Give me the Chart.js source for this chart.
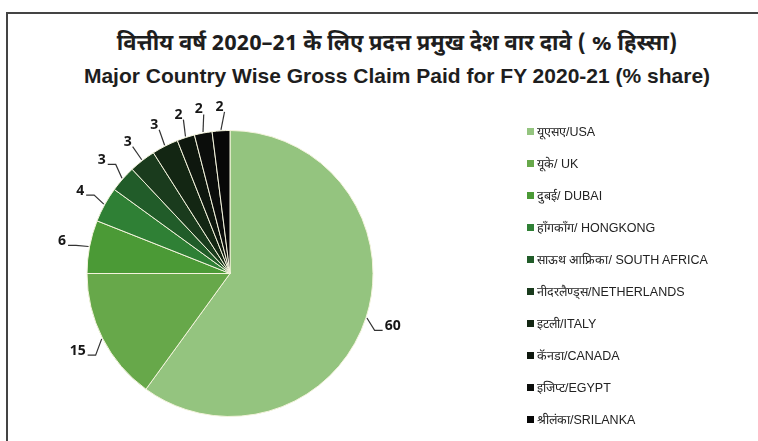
<!DOCTYPE html>
<html>
<head>
<meta charset="utf-8">
<script src="https://cdn.jsdelivr.net/npm/chart.js@4.4.0/dist/chart.umd.min.js"></script>
<style>
  html, body { margin: 0; padding: 0; background: #fff; }
  body { width: 758px; height: 441px; position: relative; overflow: hidden; }
  #frame { position: absolute; left: 6px; top: 12px; right: -10px; bottom: -10px;
           border-left: 2px solid #444; border-top: 2px solid #444; }
  .title { position: absolute; left: 36px; right: 0; text-align: center; font-weight: bold;
           color: #1e1e1e; white-space: nowrap; line-height: 1; }
  #t1 { top: 34px; font-size: 22px; font-family: "Noto Sans Devanagari", "Lohit Devanagari", "Noto Sans", sans-serif; }
  #t2 { top: 65px; font-size: 21px; font-family: "Liberation Sans Narrow", "Liberation Sans", Arial, sans-serif; }
  #chartBox { position: absolute; left: 0; top: 0; width: 758px; height: 441px; }
  #legend { position: absolute; left: 527px; top: 115px; margin: 0; padding: 0; list-style: none;
            font-family: "Liberation Sans", Arial, sans-serif; font-size: 12.5px; color: #222; }
  #legend li { height: 32px; display: flex; align-items: center; white-space: nowrap; }
  #legend li span.box { display: inline-block; width: 7px; height: 7px; margin-right: 3px; }
</style>
</head>
<body>
<div id="frame"></div>
<div class="title" id="t1">वित्तीय वर्ष 2020–21 के लिए प्रदत्त प्रमुख देश वार दावे ( % हिस्सा)</div>
<div class="title" id="t2">Major Country Wise Gross Claim Paid for FY 2020-21 (% share)</div>
<div id="chartBox"><canvas id="pie"></canvas></div>
<ul id="legend"></ul>
<script>
const countries = ['यूएसए/USA', 'यूके/ UK', 'दुबई/ DUBAI', 'हॉंगकॉंग/ HONGKONG', 'साऊथ आफ्रिका/ SOUTH AFRICA',
    'नीदरलैण्ड्स/NETHERLANDS', 'इटली/ITALY', 'कॅनडा/CANADA', 'इजिप्ट/EGYPT', 'श्रीलंका/SRILANKA']
const shares = [60, 15, 6, 4, 3, 3, 3, 2, 2, 2]

const sliceColors = ['#94c47f', '#67a84a', '#4b9a36', '#2f8035', '#215c29', '#1a3b1d',
    '#132613', '#0e170e', '#0b0d0b', '#070707']

// slice values written just outside the pie, joined by a short leader line
const leaderLabels = {
    id: 'leaderLabels',
    afterDatasetsDraw(chart) {
        const ctx = chart.ctx
        const meta = chart.getDatasetMeta(0)
        ctx.save()
        ctx.font = 'bold 14px "Open Sans", Lato, sans-serif'
        ctx.fillStyle = '#161616'
        ctx.strokeStyle = '#333'
        ctx.lineWidth = 1.2
        ctx.textAlign = 'center'
        ctx.textBaseline = 'middle'
        meta.data.forEach((arc, i) => {
            const p = arc.getProps(['x', 'y', 'startAngle', 'endAngle', 'outerRadius'], true)
            const mid = (p.startAngle + p.endAngle) / 2
            const cos = Math.cos(mid), sin = Math.sin(mid)
            const side = Math.abs(cos) > 0.65
            const text = String(shares[i])
            const hw = ctx.measureText(text).width / 2
            const dist = p.outerRadius + (side ? 28 : 24)
            const lx = p.x + dist * cos
            const ly = p.y + dist * sin
            ctx.beginPath()
            ctx.moveTo(p.x + (p.outerRadius + 1) * cos, p.y + (p.outerRadius + 1) * sin)
            if (side) {
                const s = Math.sign(cos)
                ctx.lineTo(lx - s * (hw + 10), ly + 4)
                ctx.lineTo(lx - s * (hw + 2), ly + 4)
            } else {
                ctx.lineTo(lx + hw + 1, ly + 5)
            }
            ctx.stroke()
            ctx.fillText(text, lx, ly)
        })
        ctx.restore()
    }
}

// legend as html list, filled from the chart's own legend items
const htmlLegend = {
    id: 'htmlLegend',
    afterUpdate(chart) {
        const ul = document.getElementById('legend')
        ul.innerHTML = ''
        const items = chart.options.plugins.legend.labels.generateLabels(chart)
        items.forEach(item => {
            const li = document.createElement('li')
            const box = document.createElement('span')
            box.className = 'box'
            box.style.background = item.fillStyle
            li.appendChild(box)
            li.appendChild(document.createTextNode(item.text))
            ul.appendChild(li)
        })
    }
}

const ctx = document.getElementById('pie')
const myChart = new Chart(ctx, {
    type: 'pie',
    data: {
        labels: countries,
        datasets: [{
            data: shares,
            backgroundColor: sliceColors,
            borderColor: '#f3f3dc',
            borderWidth: 1
        }]
    },
    options: {
        responsive: true,
        maintainAspectRatio: false,
        animation: false,
        layout: { padding: { top: 130, bottom: 24, left: 0, right: 298 } },
        plugins: {
            legend: { display: false },
            tooltip: { enabled: false }
        }
    },
    plugins: [leaderLabels, htmlLegend]
})
</script>
</body>
</html>
